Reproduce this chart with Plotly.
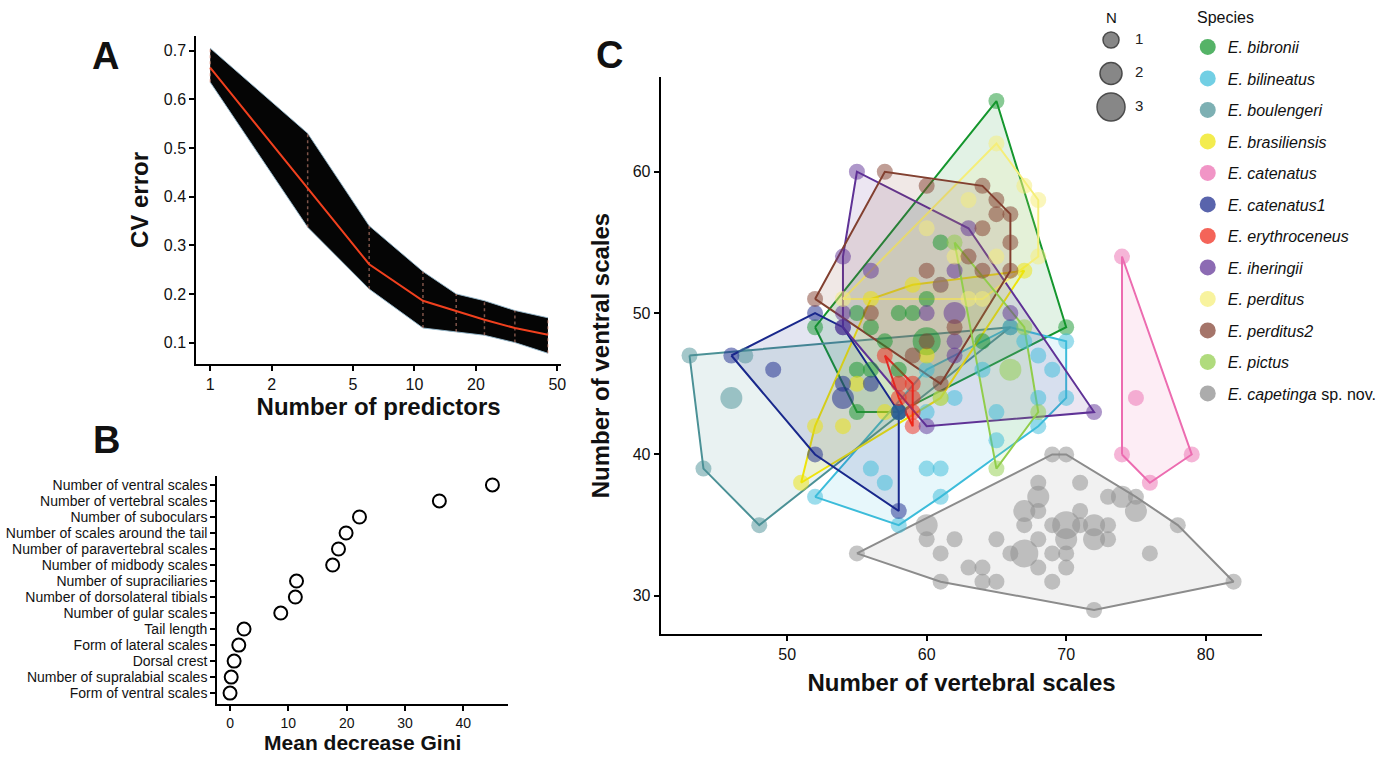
import plotly.graph_objects as go

W, H = 1395, 757
FONT = "Liberation Sans, Arial, Helvetica, sans-serif"

# ---------------- Panel A: cross-validation error ----------------
n_predictors = [1, 3, 6, 11, 16, 22, 31, 45]
cv_mean = [0.665, 0.418, 0.261, 0.186, 0.165, 0.147, 0.130, 0.116]
cv_upper = [0.705, 0.530, 0.340, 0.246, 0.200, 0.186, 0.166, 0.151]
cv_lower = [0.635, 0.337, 0.210, 0.130, 0.122, 0.115, 0.100, 0.078]
a_xticks = [1, 2, 5, 10, 20, 50]
a_yticks = [0.1, 0.2, 0.3, 0.4, 0.5, 0.6, 0.7]

# ---------------- Panel B: variable importance ----------------
features = [
    "Number of ventral scales", "Number of vertebral scales", "Number of suboculars",
    "Number of scales around the tail", "Number of paravertebral scales",
    "Number of midbody scales", "Number of supraciliaries",
    "Number of dorsolateral tibials", "Number of gular scales", "Tail length",
    "Form of lateral scales", "Dorsal crest", "Number of supralabial scales",
    "Form of ventral scales",
]
gini = [45.0, 35.9, 22.2, 19.9, 18.6, 17.6, 11.4, 11.2, 8.7, 2.4, 1.5, 0.7, 0.2, 0.0]
b_xticks = [0, 10, 20, 30, 40]

# ---------------- Panel C: vertebral vs ventral scales ----------------
# (vertebral, ventral, N)
bibronii = [(52, 49, 1), (65, 65, 1), (70, 49, 1), (55, 43, 1), (58, 43, 1), (55, 50, 1),
            (56, 49, 1), (57, 48, 1), (58, 50, 1), (59, 50, 1), (60, 51, 1), (60, 48, 3),
            (61, 55, 1), (55, 46, 1), (56, 46, 1), (58, 46, 1), (64, 48, 1)]
bilineatus = [(52, 37, 1), (58, 35, 1), (61, 37, 1), (56, 39, 1), (57, 38, 1), (60, 39, 1),
              (61, 39, 1), (60, 43, 1), (61, 44, 1), (62, 44, 1), (64, 46, 1), (65, 43, 1),
              (65, 41, 1), (68, 44, 1), (68, 42, 1), (69, 46, 1), (68, 47, 1), (67, 48, 1),
              (70, 48, 1), (70, 44, 1), (60, 46, 1), (58, 43, 1), (66, 49, 1)]
boulengeri = [(43, 47, 1), (47, 47, 1), (46, 44, 2), (44, 39, 1), (48, 35, 1), (58, 43, 1),
              (66, 49, 1)]
brasiliensis = [(51, 38, 1), (52, 42, 1), (54, 42, 1), (55, 45, 1), (57, 43, 1), (56, 51, 1),
                (59, 52, 1), (61, 52, 1), (67, 53, 1), (60, 47, 1), (61, 44, 1)]
catenatus = [(74, 54, 1), (75, 44, 1), (74, 40, 1), (76, 38, 1), (79, 40, 1)]
catenatus1 = [(46, 47, 1), (49, 46, 1), (52, 50, 1), (54, 49, 1), (54, 45, 1), (54, 44, 2),
              (56, 45, 1), (58, 43, 1), (52, 40, 1), (58, 36, 1)]
erythroceneus = [(57, 47, 1), (58, 45, 1), (59, 45, 1), (58, 44, 1), (59, 44, 1), (59, 43, 1),
                 (59, 42, 1)]
iheringii = [(55, 60, 1), (54, 54, 1), (56, 53, 1), (54, 50, 1), (54, 49, 1), (60, 50, 1),
             (62, 50, 2), (61, 52, 1), (62, 53, 1), (62, 48, 1), (62, 47, 1), (66, 50, 1),
             (63, 56, 1), (60, 42, 1), (72, 43, 1)]
perditus = [(54, 51, 1), (65, 62, 1), (67, 59, 1), (68, 58, 1), (68, 54, 1), (65, 54, 1),
            (62, 54, 1), (63, 58, 1), (60, 56, 1), (63, 51, 1), (64, 51, 1)]
perditus2 = [(52, 51, 1), (57, 60, 1), (60, 59, 1), (64, 59, 1), (65, 58, 1), (66, 57, 1),
             (65, 57, 1), (64, 56, 1), (66, 55, 1), (63, 54, 1), (64, 53, 1), (66, 53, 1),
             (61, 45, 1), (56, 50, 1), (59, 47, 1), (60, 48, 1), (62, 49, 1), (60, 53, 1)]
pictus = [(62, 55, 1), (67, 49, 1), (68, 43, 1), (65, 39, 1), (66, 46, 2)]
capetinga = [(55, 33, 1), (69, 40, 1), (70, 40, 1), (78, 35, 1), (82, 31, 1), (72, 29, 1),
             (61, 31, 1), (60, 35, 2), (60, 34, 1), (61, 33, 1), (62, 34, 1), (63, 32, 1),
             (64, 32, 1), (64, 31, 1), (65, 31, 1), (65, 34, 1), (66, 33, 1), (67, 33, 3),
             (67, 35, 1), (67, 36, 2), (68, 37, 2), (68, 38, 1), (68, 36, 1), (68, 34, 1),
             (68, 32, 1), (69, 35, 1), (69, 33, 1), (69, 31, 1), (70, 35, 3), (70, 34, 2),
             (70, 33, 1), (70, 32, 1), (71, 38, 1), (71, 36, 1), (71, 35, 1), (72, 35, 2),
             (72, 34, 2), (73, 37, 1), (73, 35, 1), (73, 34, 1), (74, 37, 2), (75, 37, 1),
             (75, 36, 2), (76, 33, 1)]

species_names = ["<i>E. bibronii</i>", "<i>E. bilineatus</i>", "<i>E. boulengeri</i>",
                 "<i>E. brasiliensis</i>", "<i>E. catenatus</i>", "<i>E. catenatus1</i>",
                 "<i>E. erythroceneus</i>", "<i>E. iheringii</i>", "<i>E. perditus</i>",
                 "<i>E. perditus2</i>", "<i>E. pictus</i>", "<i>E. capetinga</i> sp. nov."]
species_data = [bibronii, bilineatus, boulengeri, brasiliensis, catenatus, catenatus1,
                erythroceneus, iheringii, perditus, perditus2, pictus, capetinga]
species_colors = [(20, 150, 45), (60, 188, 218), (75, 145, 150), (238, 228, 10),
                  (236, 108, 176), (25, 40, 140), (240, 40, 25), (95, 50, 150),
                  (245, 238, 120), (130, 64, 48), (145, 205, 75), (140, 140, 140)]
n_levels = [1, 2, 3]
c_xticks = [50, 60, 70, 80]
c_yticks = [30, 40, 50, 60]


def msize(n):
    return 10 + 6 * n


def rgba(c, a):
    return f"rgba({c[0]},{c[1]},{c[2]},{a})"


def hull(points):
    pts = sorted(set((p[0], p[1]) for p in points))
    if len(pts) < 3:
        return pts

    def cross(o, a, b):
        return (a[0] - o[0]) * (b[1] - o[1]) - (a[1] - o[1]) * (b[0] - o[0])

    lower, upper = [], []
    for p in pts:
        while len(lower) >= 2 and cross(lower[-2], lower[-1], p) <= 0:
            lower.pop()
        lower.append(p)
    for p in reversed(pts):
        while len(upper) >= 2 and cross(upper[-2], upper[-1], p) <= 0:
            upper.pop()
        upper.append(p)
    return lower[:-1] + upper[:-1]


fig = go.Figure()

# ---- Panel A traces ----
fig.add_trace(go.Scatter(x=n_predictors, y=cv_upper, mode="lines",
                         line=dict(color="rgba(150,185,205,0.9)", width=1),
                         xaxis="x", yaxis="y", showlegend=False, hoverinfo="skip"))
fig.add_trace(go.Scatter(x=n_predictors, y=cv_lower, mode="lines", fill="tonexty",
                         fillcolor="#050505",
                         line=dict(color="rgba(150,185,205,0.9)", width=1),
                         xaxis="x", yaxis="y", showlegend=False, hoverinfo="skip"))
for n, lo, up in zip(n_predictors, cv_lower, cv_upper):
    fig.add_trace(go.Scatter(x=[n, n], y=[lo, up], mode="lines",
                             line=dict(color="rgba(225,150,130,0.55)", width=1.5, dash="dot"),
                             xaxis="x", yaxis="y", showlegend=False, hoverinfo="skip"))
fig.add_trace(go.Scatter(x=n_predictors, y=cv_mean, mode="lines",
                         line=dict(color="#f0401e", width=2),
                         xaxis="x", yaxis="y", showlegend=False))

# ---- Panel B traces ----
fig.add_trace(go.Scatter(x=gini, y=features, mode="markers",
                         marker=dict(size=13, color="white", line=dict(color="black", width=2)),
                         xaxis="x2", yaxis="y2", showlegend=False))

# ---- Panel C traces ----
for name, data, col in zip(species_names, species_data, species_colors):
    h = hull(data)
    hx = [p[0] for p in h] + [h[0][0]]
    hy = [p[1] for p in h] + [h[0][1]]
    fig.add_trace(go.Scatter(x=hx, y=hy, mode="lines", fill="toself",
                             fillcolor=rgba(col, 0.12), line=dict(color=rgba(col, 1), width=2),
                             xaxis="x3", yaxis="y3", showlegend=False, hoverinfo="skip"))
for name, data, col in zip(species_names, species_data, species_colors):
    fig.add_trace(go.Scatter(x=[p[0] for p in data], y=[p[1] for p in data], mode="markers",
                             marker=dict(size=[msize(p[2]) for p in data], color=rgba(col, 0.72),
                                         line=dict(width=0)),
                             name=name, xaxis="x3", yaxis="y3", showlegend=False))
# legend entries for species
for i, (name, col) in enumerate(zip(species_names, species_colors)):
    fig.add_trace(go.Scatter(x=[None], y=[None], mode="markers",
                             marker=dict(size=16, color=rgba(col, 0.72)),
                             name=name, legendgroup=f"g{i}", xaxis="x3", yaxis="y3",
                             showlegend=True))

# N size key
fig.add_trace(go.Scatter(x=[0] * len(n_levels), y=n_levels, mode="markers",
                         marker=dict(size=[msize(n) for n in n_levels], color="#555555",
                                     line=dict(color="black", width=1.5)),
                         xaxis="x4", yaxis="y4", showlegend=False, hoverinfo="skip"))
fig.add_trace(go.Scatter(x=[1.6] * len(n_levels), y=n_levels, mode="text",
                         text=[str(n) for n in n_levels], textposition="middle right",
                         textfont=dict(size=15, color="#222", family=FONT),
                         xaxis="x4", yaxis="y4", showlegend=False, hoverinfo="skip"))


def px_x(p):
    return p / W


def px_y(p):
    return 1 - p / H


axis_common = dict(showline=True, linecolor="black", linewidth=2, ticks="outside",
                   ticklen=5, tickwidth=2, tickcolor="black", showgrid=False, zeroline=False,
                   tickfont=dict(size=16, color="#111", family=FONT), mirror=False)
title_font = dict(size=24, color="#111", family="Liberation Sans, Arial", weight="bold")


def label(txt, x, y, size=38, bold=True, xanchor="center"):
    return dict(text=f"<b>{txt}</b>" if bold else txt, x=px_x(x), y=px_y(y),
                xref="paper", yref="paper", xanchor=xanchor, yanchor="middle",
                showarrow=False, font=dict(size=size, family=FONT, color="#111"))


fig.update_layout(
    width=W, height=H, margin=dict(l=0, r=0, t=0, b=0),
    paper_bgcolor="white", plot_bgcolor="white",
    font=dict(family=FONT, color="#111"),
    xaxis=dict(axis_common, domain=[px_x(197), px_x(563)], type="log",
               range=[-0.068, 1.717], tickvals=a_xticks, ticktext=[str(t) for t in a_xticks],
               title=dict(text="Number of predictors", font=title_font, standoff=4),
               anchor="y"),
    yaxis=dict(axis_common, domain=[px_y(364), px_y(36)], range=[0.056, 0.73],
               tickvals=a_yticks, ticktext=[f"{t:.1f}" for t in a_yticks],
               title=dict(text="CV error", font=title_font, standoff=8), anchor="x"),
    xaxis2=dict(axis_common, domain=[px_x(218), px_x(510)], range=[-2.2, 47.7],
                tickvals=b_xticks, tickfont=dict(size=14, color="#111", family=FONT),
                title=dict(text="Mean decrease Gini", font=dict(title_font, size=21),
                           standoff=3),
                anchor="y2"),
    yaxis2=dict(axis_common, domain=[px_y(704), px_y(476)], type="category",
                categoryorder="array", categoryarray=list(reversed(features)),
                tickmode="array", tickvals=features, ticktext=features,
                range=[-0.68, 13.56], anchor="x2",
                tickfont=dict(size=14, color="#111", family=FONT)),
    xaxis3=dict(axis_common, domain=[px_x(663), px_x(1267)], range=[40.93, 84.07],
                tickvals=c_xticks,
                title=dict(text="Number of vertebral scales", font=title_font, standoff=12),
                anchor="y3"),
    yaxis3=dict(axis_common, domain=[px_y(634), px_y(77)], range=[27.3, 66.7],
                tickvals=c_yticks,
                title=dict(text="Number of ventral scales", font=title_font, standoff=16),
                anchor="x3"),
    xaxis4=dict(domain=[px_x(1100), px_x(1160)], range=[-1, 3], visible=False, anchor="y4"),
    yaxis4=dict(domain=[px_y(130), px_y(20)], range=[3.687, 0.403], visible=False,
                anchor="x4"),
    legend=dict(x=px_x(1192), y=px_y(30), xanchor="left", yanchor="top",
                font=dict(size=16, family=FONT, color="#111"), tracegroupgap=7.7,
                itemsizing="trace", bgcolor="rgba(0,0,0,0)"),
    annotations=[
        label("A", 106, 56),
        label("B", 107, 440),
        label("C", 612, 55),
        label("N", 1115, 17, size=15, bold=False),
        label("Species", 1199, 17, size=16, bold=False, xanchor="left"),
    ],
)

fig.write_html("out.html", config={"displayModeBar": False},
               post_script="document.body.style.margin='0';"
                           "document.body.style.overflow='hidden';")
